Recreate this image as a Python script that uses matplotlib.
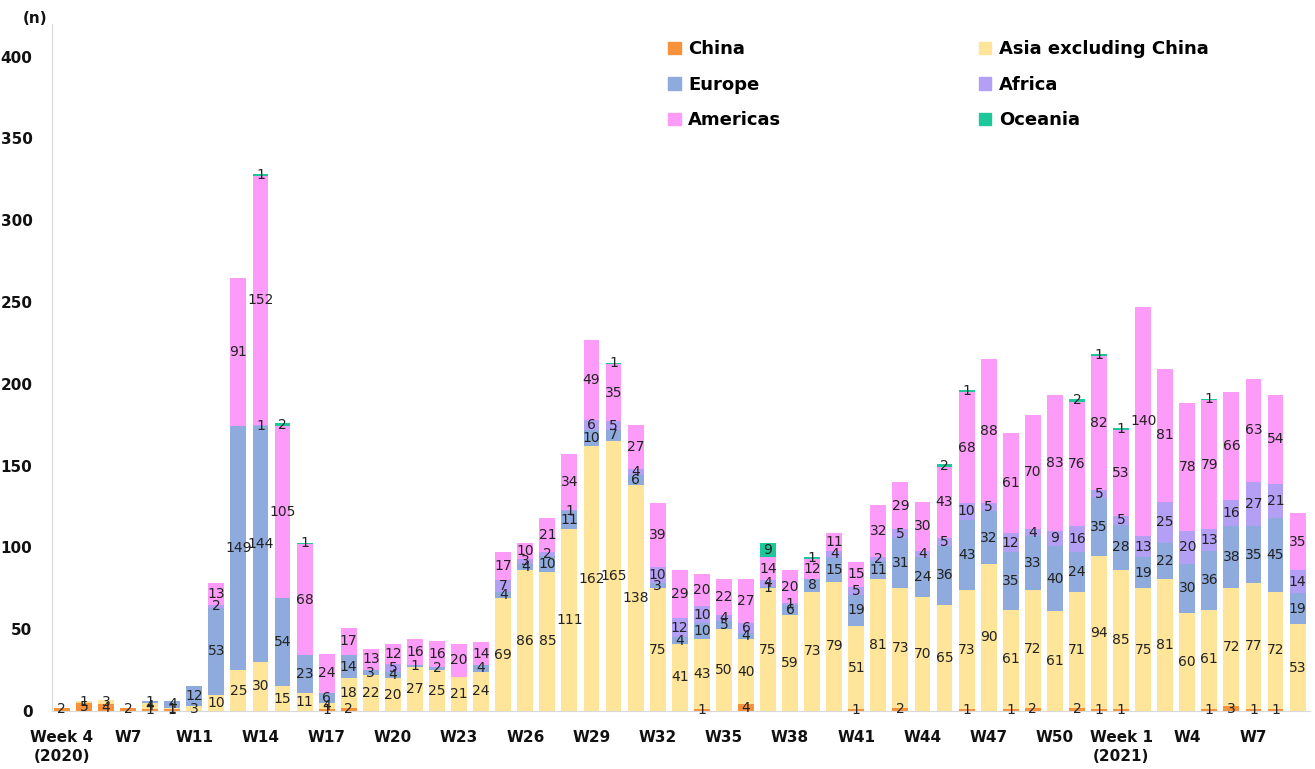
import numpy as np
import matplotlib
matplotlib.use("Agg")
import matplotlib.pyplot as plt
from matplotlib.patches import Patch

# weekly counts per region, Week 4 (2020) .. W9 (2021)
china = [2, 5, 4, 2, 1, 1, 0, 0, 0, 0, 0, 0, 1, 2, 0, 0, 0, 0, 0, 0,
         0, 0, 0, 0, 0, 0, 0, 0, 0, 1, 0, 4, 0, 0, 0, 0, 1, 0, 2, 0,
         0, 1, 0, 1, 2, 0, 2, 1, 1, 0, 0, 0, 1, 3, 1, 1, 0]
asia = [0, 1, 3, 0, 4, 1, 3, 10, 25, 30, 15, 11, 4, 18, 22, 20, 27, 25, 21, 24,
        69, 86, 85, 111, 162, 165, 138, 75, 41, 43, 50, 40, 75, 59, 73, 79, 51, 81, 73, 70,
        65, 73, 90, 61, 72, 61, 71, 94, 85, 75, 81, 60, 61, 72, 77, 72, 53]
europe = [0, 0, 0, 0, 1, 4, 12, 53, 149, 144, 54, 23, 6, 14, 3, 4, 1, 2, 0, 4,
          4, 4, 10, 11, 10, 7, 6, 3, 4, 10, 5, 4, 1, 6, 8, 15, 19, 11, 31, 24,
          36, 43, 32, 35, 33, 40, 24, 35, 28, 19, 22, 30, 36, 38, 35, 45, 19]
africa = [0, 0, 0, 0, 0, 0, 0, 2, 0, 1, 0, 0, 0, 0, 0, 5, 0, 0, 0, 0,
          7, 3, 2, 1, 6, 5, 4, 10, 12, 10, 4, 6, 4, 1, 0, 4, 5, 2, 5, 4,
          5, 10, 5, 12, 4, 9, 16, 5, 5, 13, 25, 20, 13, 16, 27, 21, 14]
americas = [0, 0, 0, 0, 0, 0, 0, 13, 91, 152, 105, 68, 24, 17, 13, 12, 16, 16, 20, 14,
            17, 10, 21, 34, 49, 35, 27, 39, 29, 20, 22, 27, 14, 20, 12, 11, 15, 32, 29, 30,
            43, 68, 88, 61, 70, 83, 76, 82, 53, 140, 81, 78, 79, 66, 63, 54, 35]
oceania = [0, 0, 0, 0, 0, 0, 0, 0, 0, 1, 2, 1, 0, 0, 0, 0, 0, 0, 0, 0,
           0, 0, 0, 0, 0, 1, 0, 0, 0, 0, 0, 0, 9, 0, 1, 0, 0, 0, 0, 0,
           2, 1, 0, 0, 0, 0, 2, 1, 1, 0, 0, 0, 1, 0, 0, 0, 0]

tick_pos = [0, 3, 6, 9, 12, 15, 18, 21, 24, 27, 30, 33, 36, 39, 42, 45, 48, 51, 54]
tick_labels = ["Week 4\n(2020)", "W7", "W11", "W14", "W17", "W20", "W23", "W26",
               "W29", "W32", "W35", "W38", "W41", "W44", "W47", "W50",
               "Week 1\n(2021)", "W4", "W7"]

series = [("China", china, "#F7923A"),
          ("Asia excluding China", asia, "#FFE599"),
          ("Europe", europe, "#8FAADC"),
          ("Africa", africa, "#B3A0F5"),
          ("Americas", americas, "#FD9BF8"),
          ("Oceania", oceania, "#1DC79A")]

fig = plt.figure(figsize=(13.15, 7.69), dpi=100)
ax = fig.add_axes([0.0395, 0.0754, 0.9565, 0.8934])

x = np.arange(len(asia))
bottom = np.zeros(len(x))
for name, vals, col in series:
    vals = np.array(vals)
    ax.bar(x, vals, 0.72, bottom=bottom, color=col, label=name, zorder=2)
    for xi, v, b in zip(x, vals, bottom):
        if v > 0:
            ax.text(xi, b + v / 2, str(v), ha="center", va="center",
                    fontsize=10, color="#222222", zorder=3)
    bottom = bottom + vals

ax.set_xlim(-0.45, 56.55)
ax.set_ylim(0, 420)
ax.set_yticks(range(0, 401, 50))
ax.set_xticks(tick_pos)
ax.set_xticklabels(tick_labels, fontweight="bold", fontsize=11, color="#111111",
                   linespacing=1.3)
ax.tick_params(axis="x", length=0, pad=14)
ax.tick_params(axis="y", length=0, pad=14, labelsize=11, labelcolor="#111111")
for lab in ax.get_yticklabels():
    lab.set_fontweight("bold")
for s in ["top", "right"]:
    ax.spines[s].set_visible(False)
ax.spines["left"].set_color("#D9D9D9")
ax.spines["bottom"].set_color("#D9D9D9")

fig.text(0.017, 0.976, "(n)", fontweight="bold", fontsize=11, color="#111111",
         va="center")

handles = [Patch(color=c) for _, _, c in series]
names = [n for n, _, _ in series]
order = [0, 2, 4, 1, 3, 5]
ax.legend([handles[i] for i in order], [names[i] for i in order], ncol=2,
          loc="upper left", bbox_to_anchor=(0.477, 1.0), frameon=False,
          prop={"weight": "bold", "size": 13}, handlelength=0.7, handleheight=0.7,
          handletextpad=0.4, columnspacing=10.95, labelspacing=0.97)

fig.savefig("out.png", dpi=100)
